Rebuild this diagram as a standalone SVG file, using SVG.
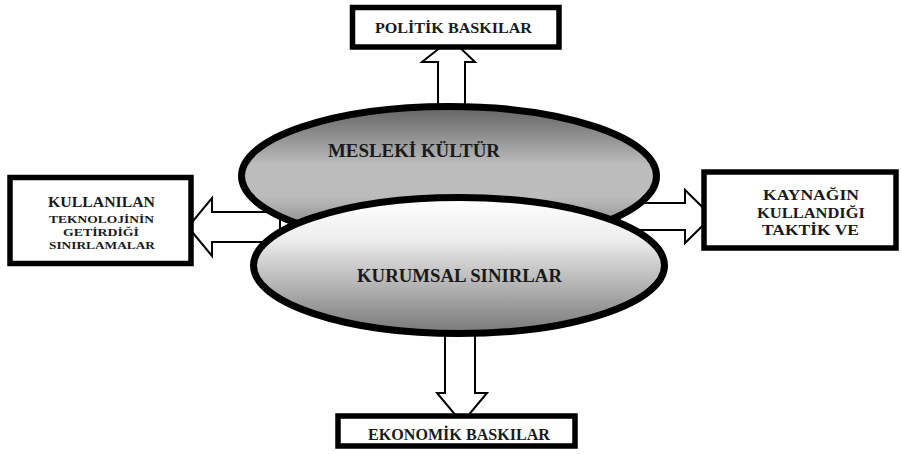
<svg xmlns="http://www.w3.org/2000/svg" width="902" height="454" viewBox="0 0 902 454">
  <defs>
    <linearGradient id="gUpper" x1="0" y1="0" x2="0" y2="1">
      <stop offset="0" stop-color="#626262"/>
      <stop offset="0.42" stop-color="#bcbcbc"/>
      <stop offset="0.65" stop-color="#bcbcbc"/>
      <stop offset="1" stop-color="#707070"/>
    </linearGradient>
    <linearGradient id="gLower" x1="0" y1="0" x2="0" y2="1">
      <stop offset="0" stop-color="#ffffff"/>
      <stop offset="0.3" stop-color="#eeeeee"/>
      <stop offset="1" stop-color="#787878"/>
    </linearGradient>
  </defs>
  <style>
    .arrow { fill: #ffffff; stroke: #000000; stroke-width: 2; stroke-linejoin: miter; }
    .box { fill: #ffffff; stroke: #000000; stroke-width: 5.5; }
    .ell { stroke: #000000; stroke-width: 7; }
    .t { font-family: "Liberation Serif", "Times New Roman", serif; font-weight: bold; fill: #1a1a1a; }
  </style>

  <g id="connectors">
    <polygon class="arrow" points="438,120 438,62 422,62 451,39 475,62 465,62 465,120"/>
    <polygon class="arrow" points="445,320 445,393 437,393 462,423 487,393 475,393 475,320"/>
    <polygon class="arrow" points="280,212 212,212 212,198 188,227 212,256 212,242 280,242"/>
    <polygon class="arrow" points="620,203 685,203 685,190 712,216.5 685,243 685,230 620,230"/>
  </g>

  <g id="node-mesleki">
    <ellipse class="ell" cx="449" cy="176" rx="207.5" ry="69.5" fill="url(#gUpper)"/>
    <text class="t" x="328" y="157" font-size="18.7" textLength="172" lengthAdjust="spacingAndGlyphs">MESLEKİ KÜLTÜR</text>
  </g>

  <g id="node-kurumsal">
    <ellipse class="ell" cx="459" cy="265.5" rx="205.5" ry="68" fill="url(#gLower)"/>
    <text class="t" x="357" y="282" font-size="18.5" textLength="205" lengthAdjust="spacingAndGlyphs">KURUMSAL SINIRLAR</text>
  </g>

  <g id="node-politik">
    <rect class="box" x="352.5" y="7.5" width="206.5" height="39.5"/>
    <text class="t" x="375" y="33" font-size="15.5" textLength="157" lengthAdjust="spacingAndGlyphs">POLİTİK BASKILAR</text>
  </g>

  <g id="node-ekonomik">
    <rect class="box" x="338" y="416" width="237" height="30"/>
    <text class="t" x="368" y="440" font-size="16" textLength="182" lengthAdjust="spacingAndGlyphs">EKONOMİK BASKILAR</text>
  </g>

  <g id="node-teknoloji">
    <rect class="box" x="10" y="177.5" width="181" height="86"/>
    <text class="t" x="48" y="207" font-size="14" textLength="107" lengthAdjust="spacingAndGlyphs">KULLANILAN</text>
    <text class="t" x="49" y="222.5" font-size="11" textLength="105" lengthAdjust="spacingAndGlyphs">TEKNOLOJİNİN</text>
    <text class="t" x="63" y="235.5" font-size="11" textLength="76" lengthAdjust="spacingAndGlyphs">GETİRDİĞİ</text>
    <text class="t" x="49" y="248.5" font-size="11" textLength="106" lengthAdjust="spacingAndGlyphs">SINIRLAMALAR</text>
  </g>

  <g id="node-kaynak">
    <rect class="box" x="704" y="172" width="192" height="76"/>
    <text class="t" x="763" y="200" font-size="14.5" textLength="96" lengthAdjust="spacingAndGlyphs">KAYNAĞIN</text>
    <text class="t" x="757" y="217.5" font-size="14.5" textLength="108" lengthAdjust="spacingAndGlyphs">KULLANDIĞI</text>
    <text class="t" x="762" y="235" font-size="14.5" textLength="97" lengthAdjust="spacingAndGlyphs">TAKTİK VE</text>
  </g>
</svg>
